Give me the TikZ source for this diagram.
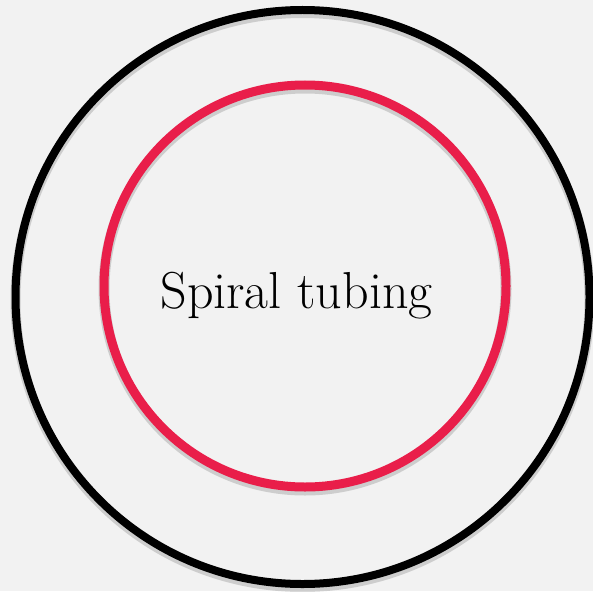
\documentclass[tikz,border=0pt]{standalone}
\usepackage{fontspec}
\begin{document}
\begin{tikzpicture}[x=1pt,y=-1pt]
\definecolor{bgc}{HTML}{F2F2F2}
\definecolor{ringred}{HTML}{E91E4A}
\tikzset{
  ring/.style={circle, inner sep=0pt, fill=none},
  shade ring/.style={circle, inner sep=0pt, draw=black, draw opacity=0.15},
  label text/.style={font=\fontsize{52}{60}\selectfont, text=black, inner sep=0pt}
}
\useasboundingbox (0,0) rectangle (593,591);
\fill[bgc] (0,0) rectangle (593,591);
% soft shadows
\node[shade ring, line width=10pt, minimum size=574pt] (outershadow) at (302.5,300) {};
\node[shade ring, line width=11pt, minimum size=402pt] (innershadow) at (305,289) {};
% rings
\node[ring, draw=black, line width=8pt, minimum size=574pt] (outer) at (302.5,297) {};
\node[ring, draw=ringred, line width=9pt, minimum size=402pt] (inner) at (305,286) {};
% label
\node[label text, anchor=base] (lbl) at (296.5,308) {Spiral tubing};
\end{tikzpicture}
\end{document}
